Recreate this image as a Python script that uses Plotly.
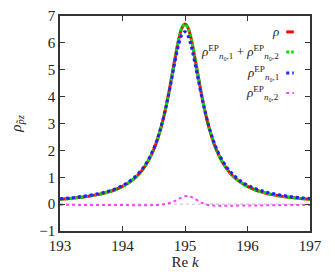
import plotly.graph_objects as go

x_vals = [193.0, 193.1, 193.2, 193.3, 193.4, 193.5, 193.6, 193.7, 193.8, 193.9,
          194.0, 194.1, 194.2, 194.3, 194.4, 194.5, 194.55, 194.6, 194.65, 194.7,
          194.75, 194.8, 194.85, 194.9, 194.95, 195.0, 195.05, 195.1, 195.15, 195.2,
          195.25, 195.3, 195.35, 195.4, 195.45, 195.5, 195.6, 195.7, 195.8, 195.9,
          196.0, 196.1, 196.2, 196.3, 196.4, 196.5, 196.6, 196.7, 196.8, 196.9, 197.0]

rho = [0.178, 0.196, 0.218, 0.243, 0.273, 0.309, 0.353, 0.406, 0.471, 0.553,
       0.658, 0.794, 0.974, 1.218, 1.556, 2.033, 2.343, 2.714, 3.153, 3.669,
       4.257, 4.901, 5.551, 6.137, 6.549, 6.70, 6.549, 6.137, 5.551, 4.901,
       4.257, 3.669, 3.153, 2.714, 2.343, 2.033, 1.556, 1.218, 0.974, 0.794,
       0.658, 0.553, 0.471, 0.406, 0.353, 0.309, 0.273, 0.243, 0.218, 0.196, 0.178]

rho_sum = [0.178, 0.196, 0.218, 0.243, 0.273, 0.309, 0.353, 0.406, 0.471, 0.553,
           0.658, 0.794, 0.974, 1.218, 1.556, 2.033, 2.343, 2.714, 3.153, 3.669,
           4.257, 4.901, 5.551, 6.137, 6.549, 6.70, 6.549, 6.137, 5.551, 4.901,
           4.257, 3.669, 3.153, 2.714, 2.343, 2.033, 1.556, 1.218, 0.974, 0.794,
           0.658, 0.553, 0.471, 0.406, 0.353, 0.309, 0.273, 0.243, 0.218, 0.196, 0.178]

rho_1 = [0.198, 0.216, 0.238, 0.273, 0.303, 0.339, 0.383, 0.436, 0.501, 0.583,
         0.688, 0.834, 1.014, 1.258, 1.596, 2.073, 2.373, 2.744, 3.163, 3.659,
         4.217, 4.821, 5.421, 5.947, 6.299, 6.41, 6.249, 5.867, 5.341, 4.761,
         4.187, 3.649, 3.173, 2.754, 2.393, 2.093, 1.616, 1.278, 1.034, 0.844,
         0.708, 0.603, 0.521, 0.446, 0.393, 0.349, 0.313, 0.273, 0.248, 0.226, 0.208]

rho_2 = [-0.02, -0.02, -0.02, -0.03, -0.03, -0.03, -0.03, -0.03, -0.03, -0.03,
         -0.03, -0.04, -0.04, -0.04, -0.04, -0.04, -0.03, -0.03, -0.01, 0.01,
         0.04, 0.08, 0.13, 0.19, 0.25, 0.29, 0.30, 0.27, 0.21, 0.14,
         0.07, 0.02, -0.02, -0.04, -0.05, -0.06, -0.06, -0.06, -0.06, -0.05,
         -0.05, -0.05, -0.05, -0.04, -0.04, -0.04, -0.04, -0.03, -0.03, -0.03, -0.03]

x_ticks = [193, 194, 195, 196, 197]
y_ticks = [-1, 0, 1, 2, 3, 4, 5, 6, 7]
y_tick_text = ["\u22121", "0", "1", "2", "3", "4", "5", "6", "7"]

labels = ["<i>\u03c1</i>",
          "<i>\u03c1</i><sup>EP</sup><sub><i>n</i>\u2080,1</sub> + <i>\u03c1</i><sup>EP</sup><sub><i>n</i>\u2080,2</sub>",
          "<i>\u03c1</i><sup>EP</sup><sub><i>n</i>\u2080,1</sub>",
          "<i>\u03c1</i><sup>EP</sup><sub><i>n</i>\u2080,2</sub>"]
colors = ["#ff0000", "#00e000", "#2020ff", "#ff40ff"]
dashes = ["solid", "3px,2px", "dot", "dot"]
widths = [3, 3, 3, 2]
series = [rho, rho_sum, rho_1, rho_2]

FONT = "Liberation Serif"

fig = go.Figure()
for ys, c, d, w in zip(series, colors, dashes, widths):
    fig.add_trace(go.Scatter(x=x_vals, y=ys, mode="lines", line=dict(color=c, dash=d, width=w, shape="spline"),
                             showlegend=False))

fig.add_hline(y=0, line=dict(color="#c0c0c0", width=1, dash="dot"), layer="below")

# manual legend (text right-aligned, sample on the right)
rows_y = [0.926, 0.833, 0.735, 0.642]
for lab, c, d, w, yy in zip(labels, colors, dashes, widths, rows_y):
    fig.add_annotation(x=0.884, y=yy, xref="paper", yref="paper", text=lab, showarrow=False,
                       xanchor="right", yanchor="middle", font=dict(family=FONT, size=13, color="#222"))
    fig.add_shape(type="line", xref="paper", yref="paper", x0=0.905, x1=0.935, y0=yy, y1=yy,
                  line=dict(color=c, dash=d, width=w))

axis_common = dict(showline=True, linecolor="#333", linewidth=1.5, mirror="ticks", ticks="inside",
                   ticklen=5, tickcolor="#333", showgrid=False, zeroline=False, automargin=False,
                   tickfont=dict(family=FONT, size=15, color="#222"))

fig.update_xaxes(range=[193, 197], tickvals=x_ticks, **axis_common,
                 title=dict(text="Re <i>k</i>", font=dict(family=FONT, size=15, color="#222"), standoff=4))
fig.update_yaxes(range=[-1, 7], tickvals=y_ticks, ticktext=y_tick_text, **axis_common,
                 title=dict(text="<i>\u03c1</i><sub><i>p\u0303z</i></sub>", font=dict(family=FONT, size=15, color="#222"), standoff=22))

# page body has an 8px margin: shrink the figure so the plot box lands where the reference's does
fig.update_layout(width=327, height=268, margin=dict(l=52, r=25, t=8, b=45, autoexpand=False),
                  paper_bgcolor="white", plot_bgcolor="white", font=dict(family=FONT))

fig.write_html("out.html")
